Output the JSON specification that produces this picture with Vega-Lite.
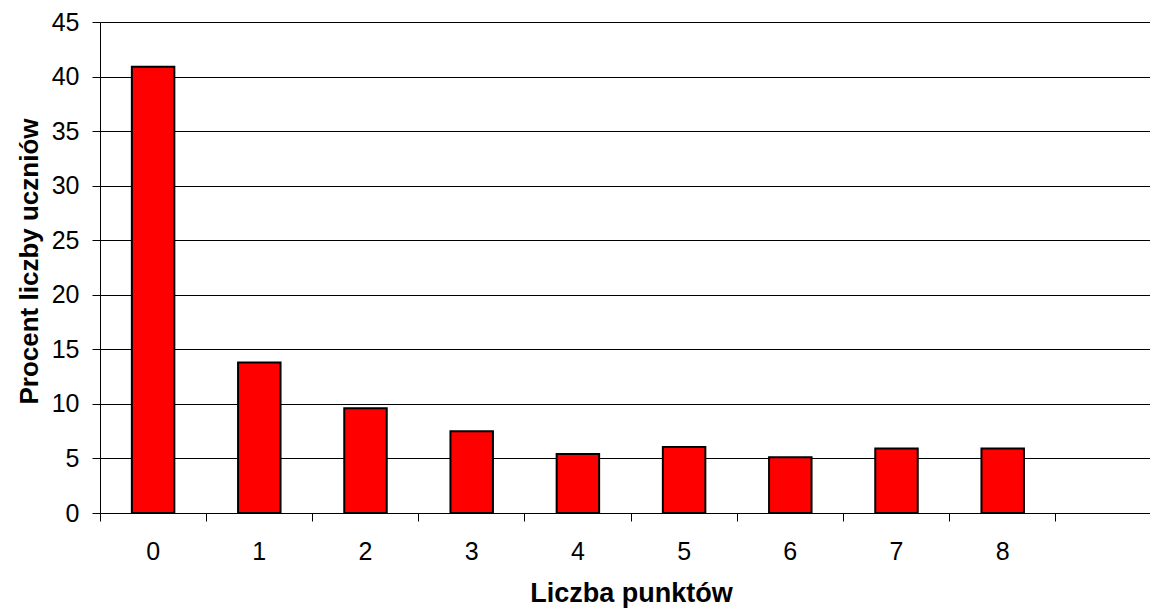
{
  "$schema": "https://vega.github.io/schema/vega-lite/v6.json",
  "autosize": {"type": "none"},
  "padding": {"left": 100, "top": 22, "right": 0, "bottom": 96},
  "width": 1050,
  "height": 491,
  "background": "white",
  "config": {
    "view": {"stroke": null},
    "font": "Liberation Sans",
    "axis": {"labelFont": "Liberation Sans", "titleFont": "Liberation Sans", "labelColor": "#000", "titleColor": "#000", "domainColor": "#000", "tickColor": "#000"}
  },
  "data": {
    "values": [
      {"punkty": "0", "procent": 40.9},
      {"punkty": "1", "procent": 13.8},
      {"punkty": "2", "procent": 9.6},
      {"punkty": "3", "procent": 7.5},
      {"punkty": "4", "procent": 5.4},
      {"punkty": "5", "procent": 6.05},
      {"punkty": "6", "procent": 5.1},
      {"punkty": "7", "procent": 5.9},
      {"punkty": "8", "procent": 5.9}
    ]
  },
  "mark": {"type": "bar", "color": "#FF0000", "stroke": "#000", "strokeWidth": 2, "width": {"band": 0.4}},
  "encoding": {
    "x": {
      "field": "punkty",
      "type": "ordinal",
      "scale": {"domain": ["0","1","2","3","4","5","6","7","8","9"], "range": [0, 1062], "paddingInner": 0, "paddingOuter": 0},
      "axis": {
        "title": "Liczba punktów",
        "titleFontSize": 27,
        "titleFontWeight": "bold",
        "titlePadding": 16,
        "labelFontSize": 25,
        "labelAngle": 0,
        "labelPadding": 18,
        "bandPosition": 0,
        "tickSize": 8,
        "domainWidth": 1,
        "labelExpr": "datum.value == '9' ? '' : datum.label",
        "grid": false
      }
    },
    "y": {
      "field": "procent",
      "type": "quantitative",
      "scale": {"domain": [0, 45], "nice": false},
      "axis": {
        "title": "Procent liczby uczniów",
        "titleFontSize": 26,
        "titleFontWeight": "bold",
        "titleBaseline": "alphabetic",
        "titleX": -63,
        "titleY": 239,
        "labelFontSize": 25,
        "labelPadding": 13,
        "values": [0,5,10,15,20,25,30,35,40,45],
        "tickSize": 8,
        "grid": true,
        "gridColor": "#000",
        "gridWidth": 1,
        "gridOpacity": 1
      }
    }
  }
}
